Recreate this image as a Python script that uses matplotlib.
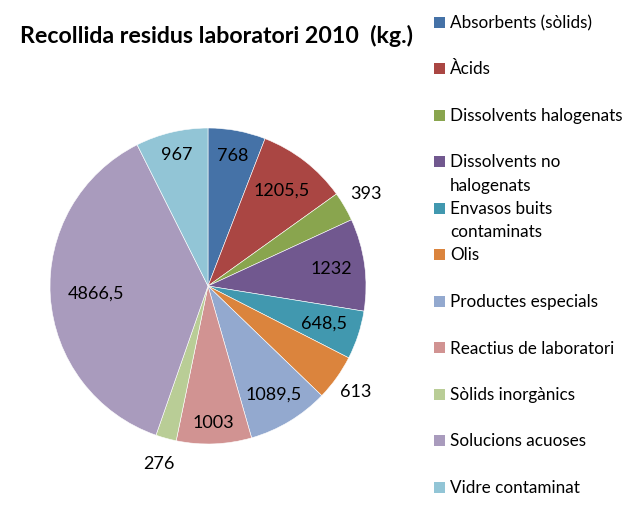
import numpy as np
import matplotlib
matplotlib.use('Agg')
import matplotlib.pyplot as plt
from matplotlib.patches import Rectangle

plt.rcParams['font.family'] = ['Lato', 'DejaVu Sans']

# data
categories = ['Absorbents (sòlids)', 'Àcids', 'Dissolvents halogenats',
              'Dissolvents no\nhalogenats', 'Envasos buits\ncontaminats', 'Olis',
              'Productes especials', 'Reactius de laboratori', 'Sòlids inorgànics',
              'Solucions acuoses', 'Vidre contaminat']
values = [768, 1205.5, 393, 1232, 648.5, 613, 1089.5, 1003, 276, 4866.5, 967]
colors = ['#4572A7', '#AA4643', '#89A54E', '#71588F', '#4198AF', '#DB843D',
          '#93A9CF', '#D19392', '#B9CD96', '#A99BBD', '#92C5D6']

# radial position of each value label (fraction of radius)
label_r = [0.84, 0.76, 1.16, 0.79, 0.77, 1.15, 0.80, 0.87, 1.17, 0.71, 0.85]

W, H = 635, 524
fig = plt.figure(figsize=(W / 100, H / 100), dpi=100)

cx, cy, r = 208, 286, 158
ax = fig.add_axes([(cx - r) / W, (H - cy - r) / H, 2 * r / W, 2 * r / H])
wedges, _ = ax.pie(values, colors=colors, startangle=90, counterclock=False,
                   wedgeprops=dict(edgecolor='white', linewidth=0.4))
ax.set_xlim(-1, 1)
ax.set_ylim(-1, 1)
ax.set_aspect('equal')
ax.axis('off')

for w, v, lr in zip(wedges, values, label_r):
    ang = np.deg2rad((w.theta1 + w.theta2) / 2)
    txt = ('%g' % v).replace('.', ',')
    ax.text(lr * np.cos(ang), lr * np.sin(ang), txt, ha='center', va='center',
            fontsize=13, color='black', clip_on=False)

fig.text(20 / W, 1 - 36 / H, 'Recollida residus laboratori 2010  (kg.)',
         fontsize=16.7, fontweight='bold', ha='left', va='center')

# legend
for i, (lab, col) in enumerate(zip(categories, colors)):
    yc = 22 + 46.5 * i
    fig.patches.append(Rectangle((434 / W, 1 - (yc + 5.5) / H), 11 / W, 11 / H,
                                 facecolor=col, transform=fig.transFigure))
    fig.text(450 / W, 1 - (yc - 7) / H, lab, fontsize=12.3, ha='left', va='top',
             linespacing=1.55)

fig.savefig('out.png', dpi=100)
